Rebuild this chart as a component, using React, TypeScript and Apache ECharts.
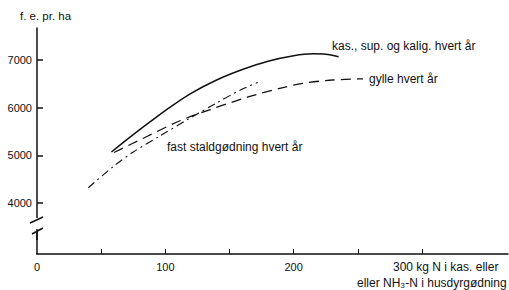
import React, { useEffect, useRef } from "react";
import * as echarts from "echarts";

// Series: x = kg N per ha, y = f.e. per ha
const kasN = [58, 72, 88, 101, 120, 140, 160, 180, 200, 215, 225, 235];
const kasYield = [5070, 5370, 5700, 5960, 6300, 6580, 6800, 6975, 7090, 7130, 7120, 7070];

const gylleN = [60, 86, 111, 135, 164, 190, 207, 230, 254];
const gylleYield = [5060, 5400, 5720, 5960, 6220, 6410, 6510, 6580, 6605];

const fastN = [40, 59, 75, 96, 118, 140, 160, 172];
const fastYield = [4320, 4755, 5070, 5410, 5760, 6100, 6390, 6530];

const yTicks = [4000, 5000, 6000, 7000];
const xTicks = [50, 100, 150, 200, 250, 300];
const xLabels = [0, 100, 200];

const labelKas = "kas., sup. og kalig. hvert år";
const labelGylle = "gylle hvert år";
const labelFast = "fast staldgødning hvert år";
const yName = "f. e. pr. ha";
const xName1 = "300 kg N i kas. eller";
const xName2 = "eller NH₃-N i husdyrgødning";

const FONT = "'Liberation Sans', Arial, Helvetica, sans-serif";
const FS = 11;
const FS_TEXT = 12;

function zip(a: number[], b: number[]) {
  return a.map((v, i) => [v, b[i]]);
}

export default function App() {
  const ref = useRef<HTMLDivElement>(null);
  useEffect(() => {
    if (!ref.current) return;
    const chart = echarts.init(ref.current, null, { renderer: "svg" });
    const txt = (text: string, x: number, y: number, size = FS_TEXT) => ({
      type: "text",
      x,
      y,
      style: {
        text,
        fill: "#111",
        font: `${size}px ${FONT}`,
        textAlign: "left",
        textVerticalAlign: "middle",
      },
    });
    chart.setOption({
      animation: false,
      backgroundColor: "#fff",
      grid: { left: 37, right: 1, top: 28, bottom: 36, containLabel: false },
      xAxis: {
        type: "value",
        min: 0,
        max: 367,
        splitLine: { show: false },
        axisLine: { lineStyle: { color: "#111", width: 1.5 } },
        axisTick: {
          inside: true,
          length: 5,
          customValues: xTicks,
          lineStyle: { color: "#111", width: 1 },
        },
        axisLabel: {
          customValues: xLabels,
          color: "#111",
          fontSize: FS,
          fontFamily: FONT,
          margin: 7,
          formatter: (v: number) => String(v),
        },
      },
      yAxis: {
        type: "value",
        min: 2930,
        max: 7671,
        splitLine: { show: false },
        axisLine: { lineStyle: { color: "#111", width: 1.5 } },
        axisTick: {
          inside: true,
          length: 6,
          customValues: yTicks,
          lineStyle: { color: "#111", width: 1.5 },
        },
        axisLabel: {
          customValues: yTicks,
          color: "#111",
          fontSize: FS,
          fontFamily: FONT,
          margin: 5,
          formatter: (v: number) => String(v),
        },
      },
      series: [
        {
          type: "line",
          data: zip(kasN, kasYield),
          smooth: 0.3,
          showSymbol: false,
          lineStyle: { color: "#111", width: 1.5, type: "solid" },
        },
        {
          type: "line",
          data: zip(gylleN, gylleYield),
          smooth: 0.3,
          showSymbol: false,
          lineStyle: { color: "#111", width: 1.3, type: [10, 6] },
        },
        {
          type: "line",
          data: zip(fastN, fastYield),
          smooth: 0.3,
          showSymbol: false,
          lineStyle: { color: "#111", width: 1.1, type: [8, 4, 2, 4] },
        },
      ],
      graphic: [
        // axis break
        { type: "rect", shape: { x: 32, y: 218, width: 10, height: 11 }, style: { fill: "#fff" }, z: 100 },
        { type: "line", shape: { x1: 30, y1: 223, x2: 43, y2: 217 }, style: { stroke: "#111", lineWidth: 1.5 }, z: 101 },
        { type: "line", shape: { x1: 32, y1: 234, x2: 43, y2: 228 }, style: { stroke: "#111", lineWidth: 1.5 }, z: 101 },
        { type: "line", shape: { x1: 37, y1: 231, x2: 37, y2: 240 }, style: { stroke: "#111", lineWidth: 1.5 }, z: 101 },
        txt(yName, 20, 16, 11.5),
        txt(labelKas, 332, 46),
        txt(labelGylle, 369, 79),
        txt(labelFast, 167, 147),
        txt(xName1, 393, 267),
        txt(xName2, 357, 283),
      ],
    });
    return () => chart.dispose();
  }, []);
  return (
    <div
      ref={ref}
      style={{ position: "fixed", left: 0, top: 0, width: 509, height: 290 }}
    />
  );
}
